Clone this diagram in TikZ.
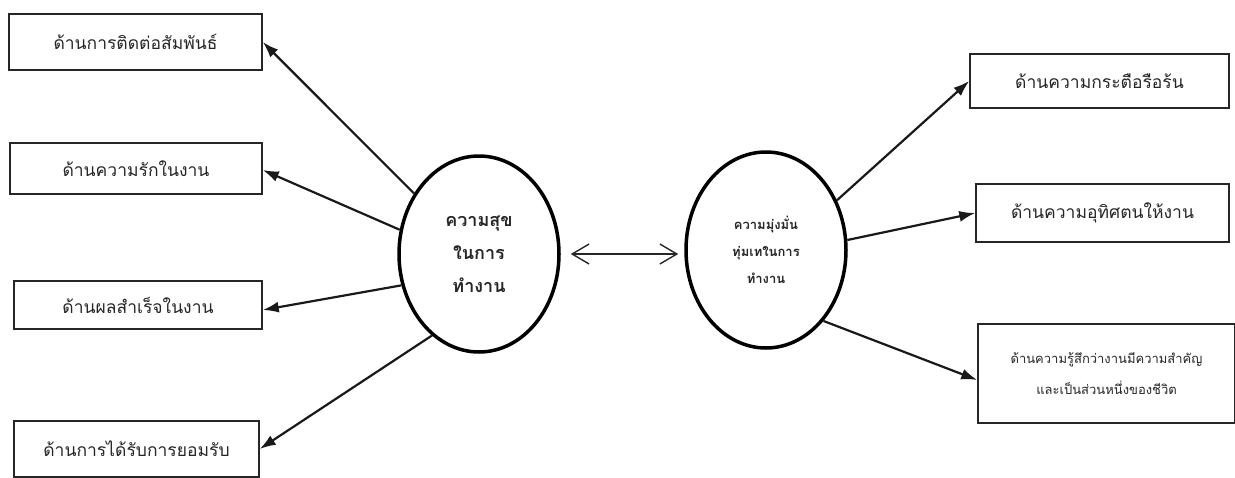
\documentclass[tikz,border=0pt]{standalone}
\usepackage{fontspec}
\newfontfamily\thaifont[Script=Thai]{Loma}
\usetikzlibrary{arrows.meta,shapes.geometric,calc}
\tikzset{
  box/.style={draw=black!85, line width=1.5pt, rectangle, inner sep=0pt, align=center, font=\thaifont\fontsize{17.5}{30}\selectfont, text=black!85},
  bubble/.style={draw=black, line width=3.5pt, ellipse, inner sep=0pt, minimum width=160pt, minimum height=196pt, align=center, text=black!85},
  conn/.style={draw=black!90, line width=2.2pt, -{Latex[length=16pt,width=11pt]}},
  link/.style={draw=black!85, line width=1.4pt, {Straight Barb[length=17pt,width=20pt]}-{Straight Barb[length=17pt,width=20pt]}}
}
\begin{document}
\begin{tikzpicture}[x=1pt,y=-1pt]
\useasboundingbox (0,0) rectangle (1235,477);
% left boxes
\node[box, minimum width=253pt, minimum height=56pt] (b1) at (135.5,42) {ด้านการติดต่อสัมพันธ์};
\node[box, minimum width=252pt, minimum height=51pt] (b2) at (136,168.5) {ด้านความรักในงาน};
\node[box, minimum width=248pt, minimum height=48pt] (b3) at (138,305) {ด้านผลสำเร็จในงาน};
\node[box, minimum width=245pt, minimum height=56pt] (b4) at (136.5,449) {ด้านการได้รับการยอมรับ};
% right boxes
\node[box, minimum width=259pt, minimum height=54pt] (b5) at (1099.5,81) {ด้านความกระตือรือร้น};
\node[box, minimum width=253pt, minimum height=58pt] (b6) at (1102.5,213) {ด้านความอุทิศตนให้งาน};
\node[box, minimum width=257pt, minimum height=99pt, font=\thaifont\fontsize{13}{31}\selectfont] (b7) at (1106.5,373.5) {ด้านความรู้สึกว่างานมีความสำคัญ\\และเป็นส่วนหนึ่งของชีวิต};
% ellipses
\node[bubble, font=\thaifont\bfseries\fontsize{18}{33}\selectfont] (L) at (479,254) {ความสุข\\ในการ\\ทำงาน};
\node[bubble, font=\thaifont\bfseries\fontsize{13}{27}\selectfont] (R) at (766,250) {ความมุ่งมั่น\\ทุ่มเทในการ\\ทำงาน};
% connectors
\draw[conn] (L.137.8) -- (b1.east);
\draw[conn] (L.163) -- ($(b2.east)+(0,1.5)$);
\draw[conn] (L.202.7) -- ($(b3.east)+(0,5)$);
\draw[conn] (L.240) -- (b4.east);
\draw[conn] (R.35) -- (b5.west);
\draw[conn] (R.7) -- (b6.west);
\draw[conn] (R.-51) -- ($(b7.west)+(0,6.5)$);
\draw[link] ($(L.east)+(10,0)$) -- ($(R.west)+(-6,4)$);
\end{tikzpicture}
\end{document}
